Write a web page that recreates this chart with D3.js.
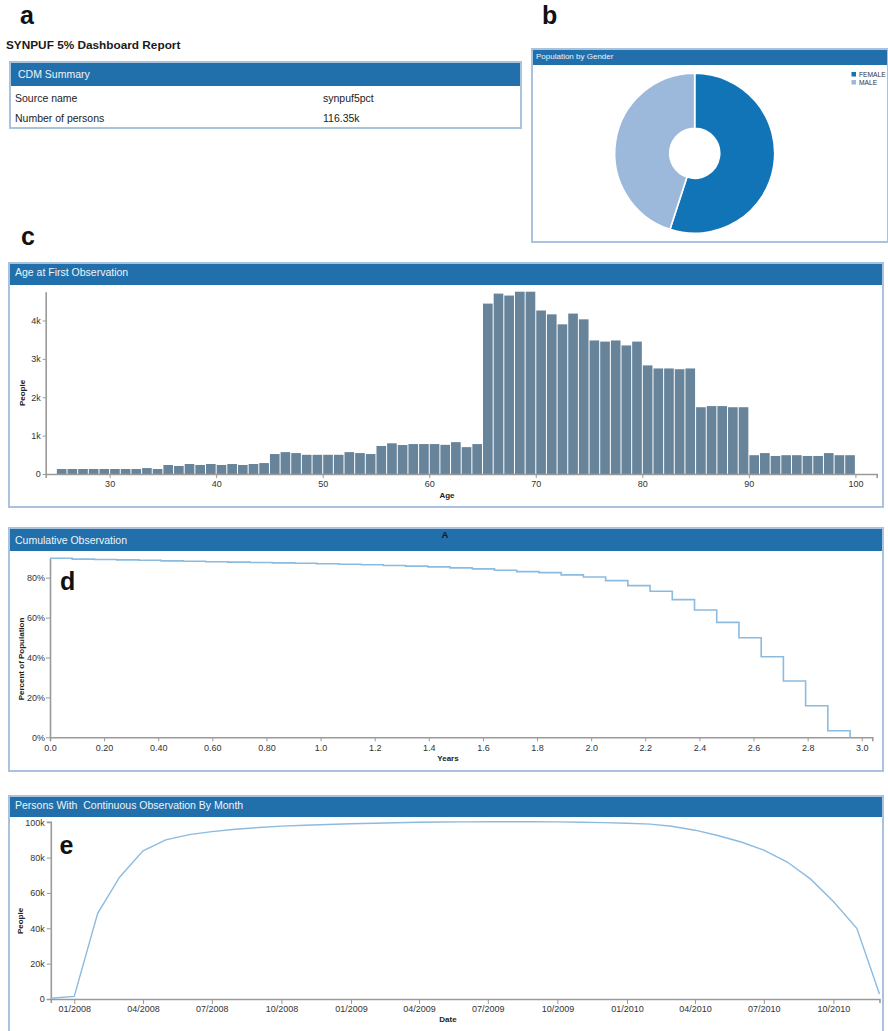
<!DOCTYPE html>
<html>
<head>
<meta charset="utf-8">
<script src="https://cdn.jsdelivr.net/npm/d3@7"></script>
<style>
  body { margin: 0; background: #fff; }
  svg { display: block; font-family: "Liberation Sans", Arial, Helvetica, sans-serif; }
  .axis text { font-size: 9px; fill: #333; }
  .axis path { stroke: #9a9a9a; stroke-width: 1.6px; fill: none; }
  .axis line { stroke: #9a9a9a; stroke-width: 1px; }
  .axis-title { font-size: 8px; font-weight: bold; fill: #222; }
  .panel-label { font-size: 25px; font-weight: bold; fill: #111; }
</style>
</head>
<body>
<svg id="dash" width="888" height="1031"></svg>
<script>
// ---- Summary table ----
const summaryLabels = ["Source name", "Number of persons"];
const summaryValues = ["synpuf5pct", "116.35k"];

// ---- Gender split (thousands of persons) ----
const genderLabels = ["FEMALE", "MALE"];
const genderCounts = [64.0, 52.35];
const genderColors = ["#1174b6", "#9cb9dc"];

// ---- Age at first observation ----
const ages = d3.range(25, 100);
const ageCounts = [
  130, 130, 130, 130, 130, 130, 130, 130, 155, 130,   // 25-34
  235, 210, 260, 235, 260, 235, 260, 235, 260, 285,   // 35-44
  520, 570, 545, 500, 500, 500, 500, 570, 545, 520,   // 45-54
  730, 800, 755, 780, 780, 780, 760, 830, 700, 780,   // 55-64
  4440, 4700, 4650, 4750, 4750, 4260, 4160, 3900, 4180, 4030, // 65-74
  3480, 3450, 3480, 3350, 3450, 2830, 2750, 2750, 2730, 2750, // 75-84
  1740, 1770, 1770, 1740, 1740, 490, 545, 470, 490, 490,      // 85-94
  470, 470, 545, 490, 490                                     // 95-99
];
const ageTicks = [30, 40, 50, 60, 70, 80, 90, 100];
const peopleTicks = [0, 1000, 2000, 3000, 4000];

// ---- Cumulative observation: share still observed, per 30-day step ----
const cumulativePct = [
  0.897, 0.893, 0.891, 0.889, 0.887, 0.884, 0.882, 0.880, 0.878, 0.876,
  0.874, 0.872, 0.870, 0.867, 0.865, 0.861, 0.858, 0.854, 0.849, 0.844,
  0.837, 0.830, 0.825, 0.814, 0.803, 0.785, 0.760, 0.732, 0.690, 0.638,
  0.576, 0.499, 0.404, 0.282, 0.158, 0.033, 0.0
];
const yearTicks = [0, 0.2, 0.4, 0.6, 0.8, 1.0, 1.2, 1.4, 1.6, 1.8, 2.0, 2.2, 2.4, 2.6, 2.8, 3.0];
const yearTickLabels = ["0.0", "0.20", "0.40", "0.60", "0.80", "1.0", "1.2", "1.4", "1.6", "1.8",
                        "2.0", "2.2", "2.4", "2.6", "2.8", "3.0"];
const pctTicks = [0, 0.2, 0.4, 0.6, 0.8];

// ---- Persons with continuous observation by month (thousands) ----
const months = ["2007-12", "2008-01", "2008-02", "2008-03", "2008-04", "2008-05", "2008-06",
  "2008-07", "2008-08", "2008-09", "2008-10", "2008-11", "2008-12", "2009-01", "2009-02",
  "2009-03", "2009-04", "2009-05", "2009-06", "2009-07", "2009-08", "2009-09", "2009-10",
  "2009-11", "2009-12", "2010-01", "2010-02", "2010-03", "2010-04", "2010-05", "2010-06",
  "2010-07", "2010-08", "2010-09", "2010-10", "2010-11", "2010-12"];
const monthPersons = [0.4, 1.5, 48.5, 68.9, 83.8, 90.0, 93.0, 94.7, 96.0, 97.0, 97.8, 98.3,
  98.7, 99.1, 99.4, 99.7, 100.0, 100.1, 100.2, 100.3, 100.3, 100.3, 100.2, 100.0, 99.8,
  99.4, 98.9, 97.7, 95.5, 92.5, 88.8, 84.2, 77.5, 67.8, 55.1, 40.0, 2.8];
const dateTicks = ["01/2008", "04/2008", "07/2008", "10/2008", "01/2009", "04/2009",
  "07/2009", "10/2009", "01/2010", "04/2010", "07/2010", "10/2010"];
const personTicks = [0, 20, 40, 60, 80, 100];

const svg = d3.select("#dash");
const HEADER = "#2170ab", BORDER = "#a9c3de";

// Panel frame: light border box with a blue title bar
function panel(x, y, w, h, headH, title, fs, tx, ty) {
  const g = svg.append("g");
  g.append("rect").attr("x", x).attr("y", y).attr("width", w).attr("height", h)
    .attr("fill", "#fff").attr("stroke", BORDER).attr("stroke-width", 2);
  g.append("rect").attr("x", x + 1).attr("y", y + 1).attr("width", w - 2).attr("height", headH)
    .attr("fill", HEADER);
  g.append("text").attr("x", tx).attr("y", ty).attr("fill", "#eef4fa")
    .style("font-size", fs + "px").style("white-space", "pre").text(title);
  return g;
}

function label(t, x, y) {
  svg.append("text").attr("class", "panel-label").attr("x", x).attr("y", y).text(t);
}

// ===== a: summary =====
label("a", 20, 23.5);
svg.append("text").attr("x", 6).attr("y", 48.5)
  .style("font-size", "11.8px").style("font-weight", "bold").attr("fill", "#1a1a1a")
  .text("SYNPUF 5% Dashboard Report");
panel(10, 62, 511, 66, 23, "CDM Summary", 10.5, 18, 78);
summaryLabels.forEach((s, i) => {
  svg.append("text").attr("x", 15).attr("y", 101.5 + i * 20)
    .style("font-size", "10.5px").attr("fill", "#222").text(s);
  svg.append("text").attr("x", 323).attr("y", 101.5 + i * 20)
    .style("font-size", "10.5px").attr("fill", "#222").text(summaryValues[i]);
});

// ===== b: gender donut =====
label("b", 542, 23.5);
panel(532, 49, 356, 193, 15, "Population by Gender", 8, 536, 59);
const pie = d3.pie().sort(null).value(d => d)(genderCounts);
const arc = d3.arc().innerRadius(25).outerRadius(80);
svg.append("g").attr("transform", "translate(694.7,153.3)")
  .selectAll("path").data(pie).join("path")
  .attr("d", arc).attr("fill", (d, i) => genderColors[i])
  .attr("stroke", "#fff").attr("stroke-width", 1.6);
const leg = svg.append("g");
genderLabels.forEach((s, i) => {
  leg.append("rect").attr("x", 851.5).attr("y", 72 + i * 8).attr("width", 4.5).attr("height", 4.5)
    .attr("fill", genderColors[i]);
  leg.append("text").attr("x", 859).attr("y", 77.3 + i * 7.8)
    .style("font-size", "6.7px").attr("fill", "#333").text(s);
});

// ===== c: age histogram =====
label("c", 21, 244.5);
panel(9, 263, 874, 244, 21, "Age at First Observation", 10.5, 15, 275.5);
const xAge = d3.scaleLinear().domain([24, 102]).range([45.7, 876.7]);
const yAge = d3.scaleLinear().domain([0, d3.max(ageCounts)]).range([474, 291.7]);
svg.append("g").selectAll("rect").data(ages).join("rect")
  .attr("x", a => xAge(a) + 0.5)
  .attr("width", a => xAge(a + 1) - xAge(a) - 1)
  .attr("y", (a, i) => yAge(ageCounts[i]))
  .attr("height", (a, i) => yAge(0) - yAge(ageCounts[i]))
  .attr("fill", "#68849a");
svg.append("g").attr("class", "axis").attr("transform", "translate(0,474)")
  .call(d3.axisBottom(xAge).tickValues(ageTicks).tickSize(4).tickSizeOuter(4).tickPadding(3));
svg.append("g").attr("class", "axis").attr("transform", "translate(45.7,0)")
  .call(d3.axisLeft(yAge).tickValues(peopleTicks).tickFormat(d3.format("~s"))
    .tickSize(3).tickSizeOuter(0).tickPadding(2));
svg.append("text").attr("class", "axis-title").attr("text-anchor", "middle")
  .attr("x", 447).attr("y", 498).text("Age");
svg.append("text").attr("class", "axis-title").attr("text-anchor", "middle")
  .attr("transform", "translate(25,393) rotate(-90)").text("People");

// ===== d: cumulative observation =====
panel(9, 528, 874, 243, 22, "Cumulative Observation", 10.5, 15, 544);
svg.append("text").attr("x", 445).attr("y", 537.5).attr("text-anchor", "middle")
  .style("font-size", "9.5px").style("font-weight", "bold").attr("fill", "#1a1a1a").text("A");
const stepYears = 30 / 365.25;
const xYear = d3.scaleLinear().domain([0, 37 * stepYears]).range([50, 872.3]);
const yPct = d3.scaleLinear().domain([0, d3.max(cumulativePct)]).range([737.3, 558.3]);
svg.append("g").attr("class", "axis").attr("transform", "translate(0,737.3)")
  .call(d3.axisBottom(xYear).tickValues(yearTicks)
    .tickFormat((d, i) => yearTickLabels[i]).tickSize(4).tickSizeOuter(4).tickPadding(3));
svg.append("g").attr("class", "axis").attr("transform", "translate(50,0)")
  .call(d3.axisLeft(yPct).tickValues(pctTicks).tickFormat(d3.format(".0%"))
    .tickSize(4).tickSizeOuter(0).tickPadding(1));
svg.append("path")
  .datum(cumulativePct)
  .attr("fill", "none").attr("stroke", "#8cbbe0").attr("stroke-width", 1.6)
  .attr("d", d3.line().curve(d3.curveStepAfter)
    .x((d, i) => xYear(i * stepYears)).y(d => yPct(d)));
svg.append("text").attr("class", "axis-title").attr("text-anchor", "middle")
  .attr("x", 448).attr("y", 761).text("Years");
svg.append("text").attr("class", "axis-title").attr("text-anchor", "middle")
  .attr("transform", "translate(24,659) rotate(-90)").text("Percent of Population");
label("d", 60, 590);

// ===== e: continuous observation by month =====
panel(9, 796, 874, 260, 20, "Persons With  Continuous Observation By Month", 10.5, 15, 809);
const parseMonth = d3.timeParse("%Y-%m");
const parseTick = d3.timeParse("%m/%Y");
const monthDates = months.map(parseMonth);
const xDate = d3.scaleTime().domain([monthDates[0], monthDates[monthDates.length - 1]])
  .range([50.8, 879.5]);
const yPers = d3.scaleLinear().domain([0, d3.max(monthPersons)]).range([999, 821.7]);
svg.append("g").attr("class", "axis").attr("transform", "translate(0,999)")
  .call(d3.axisBottom(xDate).tickValues(dateTicks.map(parseTick))
    .tickFormat(d3.timeFormat("%m/%Y")).tickSize(5).tickSizeOuter(4).tickPadding(1.5));
svg.append("g").attr("class", "axis").attr("transform", "translate(50.8,0)")
  .call(d3.axisLeft(yPers).tickValues(personTicks).tickFormat(d => d + (d ? "k" : ""))
    .tickSize(4).tickSizeOuter(4).tickPadding(2));
svg.append("path")
  .datum(monthPersons)
  .attr("fill", "none").attr("stroke", "#8cbbe0").attr("stroke-width", 1.4)
  .attr("d", d3.line().x((d, i) => xDate(monthDates[i])).y(d => yPers(d)));
svg.append("text").attr("class", "axis-title").attr("text-anchor", "middle")
  .attr("x", 448).attr("y", 1022).text("Date");
svg.append("text").attr("class", "axis-title").attr("text-anchor", "middle")
  .attr("transform", "translate(23,921) rotate(-90)").text("People");
label("e", 59.5, 853.5);
</script>
</body>
</html>
